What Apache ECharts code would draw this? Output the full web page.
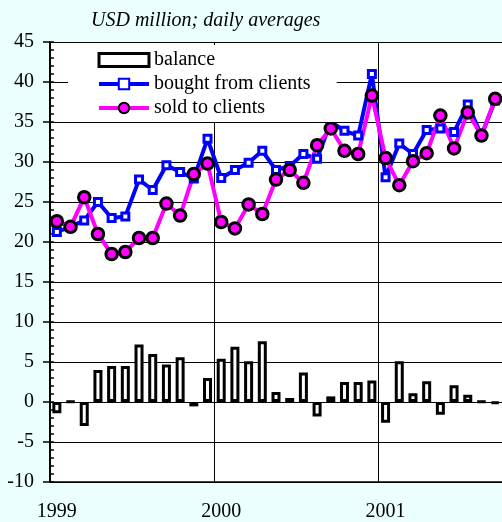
<!DOCTYPE html>
<html>
<head>
<meta charset="utf-8">
<script src="https://cdn.jsdelivr.net/npm/echarts@6/dist/echarts.min.js"></script>
<style>
html,body{margin:0;padding:0;background:#ebffff;}
#chart{width:502px;height:522px;}
</style>
</head>
<body>
<div id="chart"></div>
<script>
// monthly, Jan 1999 .. Sep 2001
var months = [];
for (var y = 1999; y <= 2001; y++) {
	for (var m = 1; m <= 12; m++) {
		if (y == 2001 && m > 9) break;
		months.push(y + '-' + (m < 10 ? '0' + m : m));
	}
}

var bought = [21.25, 21.9, 22.7, 25.0, 23.0, 23.2, 27.8, 26.5, 29.6, 28.75, 27.95, 32.9,
	28.0, 29.0, 29.9, 31.4, 29.0, 29.5, 31.0, 30.4, 35.0, 33.9, 33.3, 41.0,
	28.1, 32.3, 31.0, 34.0, 34.2, 33.75, 37.2, 33.35, 37.7];
var sold = [22.6, 21.9, 25.6, 21.0, 18.5, 18.75, 20.5, 20.5, 24.8, 23.3, 28.5, 29.8,
	22.5, 21.7, 24.7, 23.5, 27.8, 29.0, 27.4, 32.1, 34.2, 31.4, 31.0, 38.3,
	30.5, 27.1, 30.1, 31.1, 35.8, 31.7, 36.2, 33.3, 37.9];
var balance = [-1.4, 0.05, -3.0, 4.0, 4.5, 4.5, 7.2, 6.0, 4.7, 5.6, -0.55, 3.0,
	5.4, 6.9, 5.1, 7.6, 1.25, 0.5, 3.7, -1.8, 0.7, 2.5, 2.5, 2.7,
	-2.6, 5.1, 1.1, 2.6, -1.6, 2.1, 0.9, 0.05, -0.2];

var fontName = 'Liberation Serif';

var dom = document.getElementById('chart');
var myChart = echarts.init(dom);
var option = {
	backgroundColor: '#ebffff',
	textStyle: { fontFamily: fontName, color: '#000' },
	title: {
		text: 'USD million; daily averages',
		left: 91,
		top: 11,
		padding: 0,
		textStyle: { fontFamily: fontName, fontStyle: 'italic', fontWeight: 'normal', fontSize: 20, color: '#000' }
	},
	legend: {
		orient: 'vertical',
		left: 68,
		top: 45,
		padding: [5, 26, 4, 29],
		backgroundColor: '#fff',
		itemWidth: 50,
		itemHeight: 13,
		itemGap: 4,
		textStyle: { fontFamily: fontName, fontSize: 20, color: '#000' },
		data: [
			{ name: 'balance', icon: 'rect', itemStyle: { color: '#fff', borderColor: '#000', borderWidth: 3 } },
			{ name: 'bought from clients', lineStyle: { width: 4 } },
			{ name: 'sold to clients', lineStyle: { width: 4 } }
		]
	},
	grid: {
		left: 50,
		right: -4.5,
		top: 42,
		bottom: 40,
		show: true,
		backgroundColor: '#fff',
		borderWidth: 0
	},
	xAxis: {
		type: 'category',
		data: months,
		boundaryGap: true,
		axisLine: { onZero: false, lineStyle: { color: '#000', width: 1.5 } },
		axisTick: { show: false },
		axisLabel: {
			interval: function (idx) { return idx % 12 === 0; },
			formatter: function (v) { return v.substr(0, 4); },
			fontFamily: fontName,
			fontSize: 20,
			color: '#000',
			margin: 20
		},
		splitLine: {
			show: true,
			interval: function (idx) { return idx % 12 === 0 && idx > 0; },
			lineStyle: { color: '#000', width: 1 }
		}
	},
	yAxis: [
		{
			type: 'value',
			min: -10,
			max: 45,
			interval: 5,
			axisLine: { show: true, lineStyle: { color: '#000', width: 2 } },
			axisTick: { show: true, inside: true, length: 4, lineStyle: { color: '#000', width: 1.5 } },
			minorTick: { show: true, splitNumber: 5, length: 4, lineStyle: { color: '#000', width: 1.5 } },
			axisLabel: { fontFamily: fontName, fontSize: 20, color: '#000', margin: 16 },
			splitLine: { show: true, lineStyle: { color: '#000', width: 1 } }
		},
		{
			// outward major ticks only
			type: 'value',
			position: 'left',
			min: -10,
			max: 45,
			interval: 5,
			axisLine: { show: false },
			axisTick: { show: true, length: 7, lineStyle: { color: '#000', width: 1.5 } },
			axisLabel: { show: false },
			splitLine: { show: false }
		}
	],
	series: [
		{
			name: 'balance',
			type: 'bar',
			data: balance,
			barWidth: 9,
			itemStyle: { color: '#fff', borderColor: '#000', borderWidth: 3 }
		},
		{
			name: 'bought from clients',
			type: 'line',
			data: bought,
			symbol: 'rect',
			symbolSize: 7,
			showAllSymbol: true,
			lineStyle: { color: '#0000ff', width: 4 },
			itemStyle: { color: '#fff', borderColor: '#0000ff', borderWidth: 3 }
		},
		{
			name: 'sold to clients',
			type: 'line',
			data: sold,
			symbol: 'circle',
			symbolSize: 11.5,
			showAllSymbol: true,
			lineStyle: { color: '#ff00ff', width: 4 },
			itemStyle: { color: '#ff00ff', borderColor: '#000', borderWidth: 3 }
		}
	],
	animation: false
};

if (option && typeof option === "object") {
	myChart.setOption(option, true);
}
</script>
</body>
</html>
